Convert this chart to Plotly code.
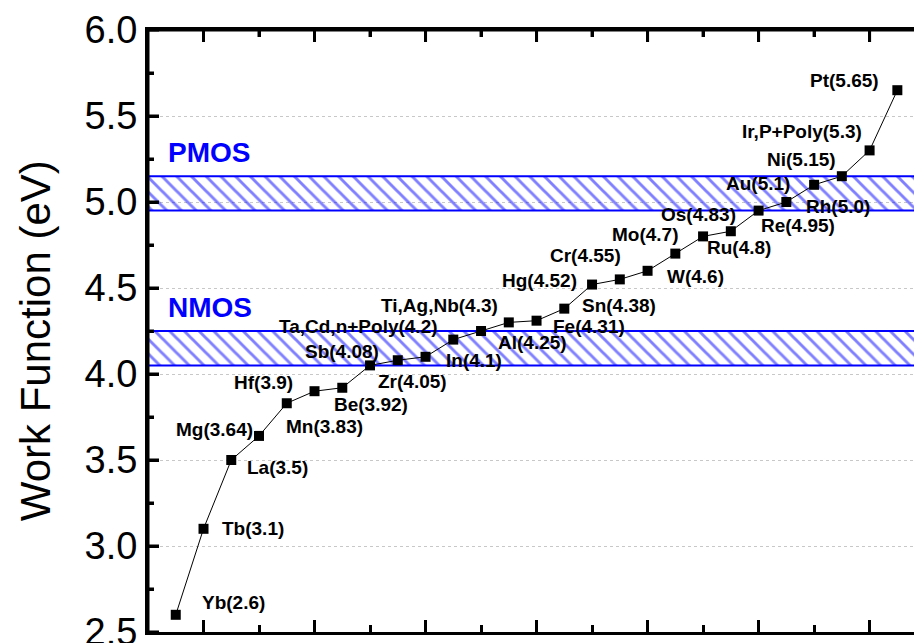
import plotly.graph_objects as go

# ---- data ----
metals = ["Yb", "Tb", "La", "Mg", "Mn", "Hf", "Be", "Zr", "Sb", "In",
          "Ta,Cd,n+Poly", "Al", "Ti,Ag,Nb", "Fe", "Sn", "Hg", "Cr", "W", "Mo",
          "Ru", "Os", "Re", "Rh", "Au", "Ni", "Ir,P+Poly", "Pt"]
work_function = [2.6, 3.1, 3.5, 3.64, 3.83, 3.9, 3.92, 4.05, 4.08, 4.1,
                 4.2, 4.25, 4.3, 4.31, 4.38, 4.52, 4.55, 4.6, 4.7,
                 4.8, 4.83, 4.95, 5.0, 5.1, 5.15, 5.3, 5.65]
positions = list(range(1, len(metals) + 1))

nmos_band = [4.05, 4.25]
pmos_band = [4.95, 5.15]
band_names = ["NMOS", "PMOS"]

y_ticks = [2.5, 3.0, 3.5, 4.0, 4.5, 5.0, 5.5, 6.0]
y_tick_labels = ["2.5", "3.0", "3.5", "4.0", "4.5", "5.0", "5.5", "6.0"]

# label offsets in pixels (dx right, dy down) – styling only
label_offsets = [(58, -12), (49, 0), (46, 7), (-45, -6), (38, 23), (-51, -9),
                 (29, 17), (42, 16), (-56, -9), (48, 4), (-95, -13), (51, 11),
                 (-69, -17), (52, 6), (55, -3), (-53, -4), (-34, -24), (48, 6),
                 (-30, -19), (36, 11), (-32, -17), (39, 15), (52, 4), (-56, -1),
                 (-40, -17), (-68, -19), (-53, -10)]

X_RANGE = [0, 27.6]
X_MAJOR_DTICK = 4
X_TICK0 = 2
BLUE = "#0000FF"
FONT = "Liberation Sans, Arial, sans-serif"

fig = go.Figure()

# hatched bands
for band in (nmos_band, pmos_band):
    lo, hi = band
    fig.add_trace(go.Scatter(
        x=[-1, 30, 30, -1, -1], y=[lo, lo, hi, hi, lo],
        mode="lines", fill="toself",
        line=dict(color=BLUE, width=2),
        fillcolor="rgba(0,0,0,0)",
        fillpattern=dict(shape="\\", fgcolor=BLUE, bgcolor="rgba(0,0,0,0)",
                         size=10.4, solidity=0.28),
        hoverinfo="skip", showlegend=False,
    ))

# data
fig.add_trace(go.Scatter(
    x=positions, y=work_function, mode="lines+markers",
    line=dict(color="black", width=1),
    marker=dict(symbol="square", size=10, color="black"),
    showlegend=False,
))

annotations = []
for xi, name, val, (dx, dy) in zip(positions, metals, work_function, label_offsets):
    annotations.append(dict(
        x=xi, y=val, xref="x", yref="y", text=f"<b>{name}({val})</b>",
        showarrow=False, xanchor="center", yanchor="middle",
        xshift=dx, yshift=-dy,
        font=dict(family=FONT, size=19, color="black"),
    ))

for name, band in zip(band_names, (nmos_band, pmos_band)):
    annotations.append(dict(
        x=0, y=band[1], xref="x", yref="y", text=f"<b>{name}</b>", showarrow=False,
        xanchor="left", yanchor="middle", xshift=18, yshift=24,
        font=dict(family=FONT, size=28, color=BLUE),
    ))

annotations.append(dict(
    x=-0.1475, y=0.483, xref="paper", yref="paper", text="Work Function (eV)",
    showarrow=False, textangle=-90, xanchor="center", yanchor="middle",
    font=dict(family=FONT, size=42, color="black"),
))

# frame and tick marks drawn as axis-referenced shapes (frame top / left, ticks)
frame = dict(color="black", width=3)
shapes = [
    dict(type="line", xref="paper", yref="paper", x0=0, x1=1, y0=1, y1=1,
         line=frame, layer="above"),
    dict(type="line", xref="paper", yref="paper", x0=0, x1=0, y0=0, y1=1,
         line=frame, layer="above"),
]
# y-axis major and minor (midpoint) ticks
y_minor = [(a + b) / 2 for a, b in zip(y_ticks[:-1], y_ticks[1:])]
for v in y_ticks:
    shapes.append(dict(type="line", xref="paper", xsizemode="pixel", xanchor=0,
                       x0=0, x1=11, yref="y", y0=v, y1=v, line=frame, layer="above"))
for v in y_minor:
    shapes.append(dict(type="line", xref="paper", xsizemode="pixel", xanchor=0,
                       x0=0, x1=6, yref="y", y0=v, y1=v, line=frame, layer="above"))
# top-axis ticks (mirror of bottom)
x_major = list(range(X_TICK0, int(X_RANGE[1]) + 1, X_MAJOR_DTICK))
x_minor = list(range(X_TICK0 + X_MAJOR_DTICK // 2, int(X_RANGE[1]) + 1, X_MAJOR_DTICK))
for v in x_major:
    shapes.append(dict(type="line", xref="x", x0=v, x1=v, yref="paper", ysizemode="pixel",
                       yanchor=1, y0=0, y1=-12, line=frame, layer="above"))
for v in x_minor:
    shapes.append(dict(type="line", xref="x", x0=v, x1=v, yref="paper", ysizemode="pixel",
                       yanchor=1, y0=0, y1=-7, line=frame, layer="above"))

fig.update_layout(
    width=914, height=643,
    margin=dict(l=148, r=0, t=30, b=11),
    paper_bgcolor="white", plot_bgcolor="white",
    annotations=annotations, shapes=shapes,
)
fig.update_xaxes(
    range=X_RANGE, showgrid=False, showticklabels=False, automargin=False,
    showline=True, linecolor="black", linewidth=3, mirror="ticks",
    ticks="inside", dtick=X_MAJOR_DTICK, tick0=X_TICK0,
    ticklen=12, tickwidth=3, tickcolor="black",
    minor=dict(ticks="inside", dtick=2, ticklen=7, tickwidth=3,
               tickcolor="black", showgrid=False),
)
fig.update_yaxes(
    range=[2.5, 6.0], tickvals=y_ticks, ticktext=y_tick_labels, automargin=False,
    showline=True, linecolor="black", linewidth=3,
    ticks="inside", ticklen=11, tickwidth=3, tickcolor="black",
    ticklabeloverflow="allow",
    tickfont=dict(family=FONT, size=38, color="black"),
    showgrid=True, gridcolor="#c8c8c8", gridwidth=1, griddash="dot",
    minor=dict(ticks="inside", dtick=0.25, ticklen=6, tickwidth=3,
               tickcolor="black", showgrid=False),
)

fig.write_html("out.html")
